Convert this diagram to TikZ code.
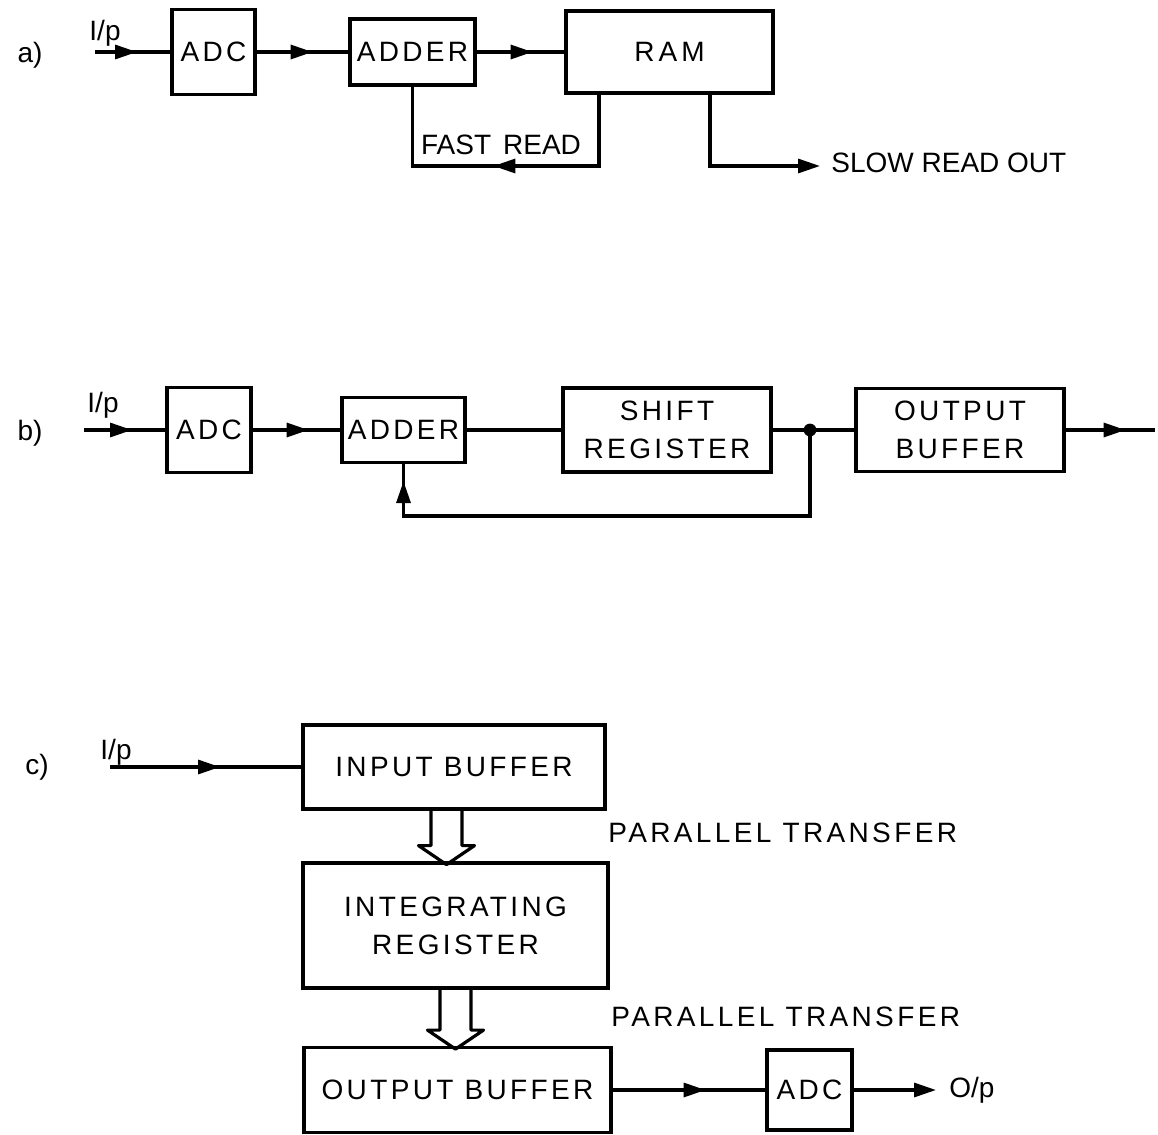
\documentclass[tikz,border=0pt]{standalone}
\usepackage{fontspec}
\setmainfont{Liberation Sans}
\newfontfamily\spacedfamily[LetterSpace=12]{Liberation Sans}
\newcommand\boxfont{\spacedfamily\fontsize{14pt}{19pt}\selectfont}
\newcommand\plainfont{\fontsize{14pt}{19pt}\selectfont}
\usetikzlibrary{
    arrows.meta,
    decorations.markings
}

\begin{document}
\begin{tikzpicture}[
    x=0.5pt, y=-0.5pt,
    block/.style={
        draw,
        line width=1.6pt,
        inner sep=0pt,
        align=center,
        font=\boxfont
    },
    tag/.style={
        inner sep=0pt,
        font=\plainfont
    },
    wire/.style={
        line width=1.6pt
    },
    flow/.style={
        -{Triangle[length=11pt,width=7pt]}
    },
    midarrow/.style={
        postaction={decorate},
        decoration={markings,
            mark=at position #1 with {\arrow{Triangle[length=11pt,width=7pt]}}}
    },
    pics/ptransfer/.style={
        code={
            \draw[wire, line join=round]
                (-7.75pt,0pt) -- (-7.75pt,{9.5pt-#1}) -- (-14pt,{9.5pt-#1})
                -- (0pt,-#1) -- (14pt,{9.5pt-#1}) -- (7.75pt,{9.5pt-#1})
                -- (7.75pt,0pt);
        }
    }
]
\useasboundingbox (0,0) rectangle (1158,1135);

% a) adder with RAM
\node[tag] (labA) at (30,55) {a)};
\node[tag] (ipA) at (105,33) {I/p};
\coordinate (startA) at (95,52);
\node[block, minimum width=41.5pt, minimum height=42.5pt] (adcA) at (213.5,52) {ADC};
\node[block, minimum width=62.5pt, minimum height=33pt] (adderA) at (412.5,52) {ADDER};
\node[block, minimum width=103.5pt, minimum height=41pt] (ramA) at (669.5,52) {R\kern2pt A\kern2pt M};

\draw[wire, midarrow=21pt] (startA) -- (adcA);
\draw[wire, midarrow=28pt] (adcA) -- (adderA);
\draw[wire, midarrow=28pt] (adderA) -- (ramA);

\coordinate (fastR) at (599,166);
\coordinate (fastL) at (412.5,166);
\draw[wire, midarrow=88.5pt] (ramA.south -| fastR) -- (fastR) -- (fastL) -- (adderA.south);
\node[tag] (fast) at (501,145) {FAST\hspace{6pt}READ};

\coordinate (slowC) at (710,166);
\node[tag, anchor=west, inner sep=5.5pt] (slow) at (820,163) {SLOW READ OUT};
\draw[wire, flow] (ramA.south -| slowC) -- (slowC) -- (slowC -| slow.west);

% b) adder with shift register
\node[tag] (labB) at (30,433) {b)};
\node[tag] (ipB) at (103,405) {I/p};
\coordinate (startB) at (84,430);
\node[block, minimum width=42pt, minimum height=42.5pt] (adcB) at (209,430) {ADC};
\node[block, minimum width=61.5pt, minimum height=32.5pt] (adderB) at (403.5,430) {ADDER};
\node[block, minimum width=104pt, minimum height=42pt] (shiftB) at (667,430) {SHIFT\\REGISTER};
\node[block, minimum width=104pt, minimum height=41.5pt] (outbufB) at (960,430) {OUTPUT\\BUFFER};
\coordinate (tapB) at (810,430);
\coordinate (endB) at (1155,430);
\coordinate (fbR) at (810,516);
\coordinate (fbL) at (403.5,516);

\draw[wire, midarrow=24pt] (startB) -- (adcB);
\draw[wire, midarrow=28pt] (adcB) -- (adderB);
\draw[wire] (adderB) -- (shiftB);
\draw[wire] (shiftB) -- (outbufB);
\draw[wire, midarrow=30pt] (outbufB) -- (endB);
\fill (tapB) circle (3.2pt);
\draw[wire, midarrow=-8.5pt] (tapB) -- (fbR) -- (fbL) -- (adderB.south);

% c) buffered integrating register
\node[tag] (labC) at (37,767) {c)};
\node[tag] (ipC) at (116,752) {I/p};
\coordinate (startC) at (110,767);
\node[block, minimum width=151pt, minimum height=42pt] (inbufC) at (454,767) {INPUT BUFFER};
\node[block, minimum width=152.5pt, minimum height=62.5pt] (intregC) at (455.5,925.5) {INTEGRATING\\REGISTER};
\node[block, minimum width=153.5pt, minimum height=42.5pt] (outbufC) at (457.5,1090) {OUTPUT BUFFER};
\node[block, minimum width=42.5pt, minimum height=40pt] (adcC) at (809.5,1090) {ADC};
\node[tag, anchor=west, inner sep=6.5pt] (opC) at (936,1090) {O/p};

\draw[wire, midarrow=55pt] (startC) -- (inbufC);
\pic at ([xshift=-3.75pt]inbufC.south) {ptransfer=27pt};
\node[tag, anchor=west, font=\boxfont] (transA) at (608,833) {PARALLEL TRANSFER};
\pic at (intregC.south) {ptransfer=29.75pt};
\node[tag, anchor=west, font=\boxfont] (transB) at (611,1017) {PARALLEL TRANSFER};
\draw[wire, midarrow=46.5pt] (outbufC) -- (adcC);
\draw[wire, flow] (adcC) -- (opC);

\end{tikzpicture}
\end{document}
